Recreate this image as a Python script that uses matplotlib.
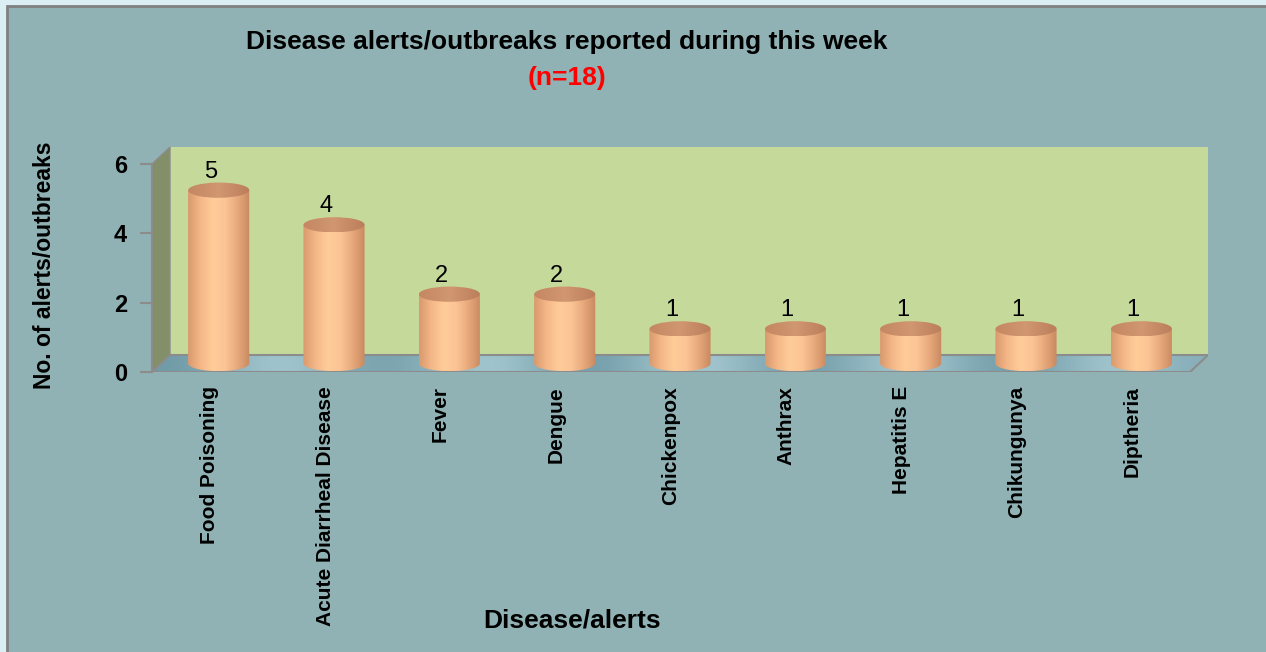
import numpy as np
import matplotlib.pyplot as plt
from matplotlib.patches import Rectangle, Polygon, Ellipse, PathPatch
from matplotlib.path import Path
from matplotlib.colors import LinearSegmentedColormap

# Data
diseases = ["Food Poisoning", "Acute Diarrheal Disease", "Fever", "Dengue",
            "Chickenpox", "Anthrax", "Hepatitis E", "Chikungunya", "Diptheria"]
counts = [5, 4, 2, 2, 1, 1, 1, 1, 1]
y_ticks = [0, 2, 4, 6]

plt.rcParams['font.family'] = ['Liberation Sans', 'DejaVu Sans']

W, H = 1266, 652
fig = plt.figure(figsize=(W / 100, H / 100), dpi=100)
fig.patch.set_facecolor('#dbeef4')

# outer chart frame
frame = Rectangle((7 / W, -0.1), 1.0, 1.1 - 6 / H, transform=fig.transFigure,
                  facecolor='#90b2b4', edgecolor='#808080', linewidth=2, zorder=-5)
fig.patches.append(frame)

n = len(diseases)
dx, dy = 0.156, 0.49          # depth of the 3D box in data units
ymax = 6

# axes: front plane from x=152px to 1208px, y=0 at 372px, top at 147px
ax = fig.add_axes([152 / W, 1 - 372 / H, (1208 - 152) / W, (372 - 147) / H])
ax.set_facecolor('none')
ax.set_zorder(2)

grey = '#8c8c8c'
# back wall
ax.add_patch(Rectangle((-0.5 + dx, dy), n, ymax, facecolor='#c5d99b',
                       edgecolor='none', zorder=1))
# left side wall
ax.add_patch(Polygon([(-0.5, 0), (-0.5, ymax), (-0.5 + dx, ymax + dy), (-0.5 + dx, dy)],
                     facecolor='#838f68', edgecolor=grey, linewidth=1, zorder=2))
# floor
floor_pts = [(-0.5, 0), (n - 0.5, 0), (n - 0.5 + dx, dy), (-0.5 + dx, dy)]
floor = Polygon(floor_pts, facecolor='#8fb7c2', edgecolor='none', zorder=2)
ax.add_patch(floor)
fgrad = np.array([[0.0, 0.5, 1.0, 0.4, 0.1, 0.6, 1.0, 0.3, 0.0, 0.7, 1.0, 0.4, 0.0,
                   0.6, 1.0, 0.3, 0.0, 0.6, 1.0, 0.4]])
fcmap = LinearSegmentedColormap.from_list('floor', ['#6f9aa6', '#a9ccd4'])
im = ax.imshow(fgrad, cmap=fcmap, extent=[-0.5, n - 0.5 + dx, 0, dy],
               aspect='auto', zorder=2, interpolation='bicubic')
im.set_clip_path(floor)
ax.add_patch(Polygon(floor_pts, facecolor='none', edgecolor=grey, linewidth=1.5, zorder=3))

# cylinders
bw = 0.53
eh = 0.44
body_cmap = LinearSegmentedColormap.from_list(
    'body', ['#d99a6e', '#f5b888', '#ffcc99', '#fcc495', '#e8aa7c', '#c98a62'])
top_cmap = LinearSegmentedColormap.from_list('top', ['#c48762', '#d19770', '#bb7e5c'])
grad = np.linspace(0, 1, 64).reshape(1, -1)
for i, v in enumerate(counts):
    c = i + dx / 2
    b = dy / 2
    left, right = c - bw / 2, c + bw / 2
    t = np.linspace(np.pi, 2 * np.pi, 40)
    bottom = np.column_stack([c + bw / 2 * np.cos(t), b + eh / 2 * np.sin(t)])
    verts = np.vstack([[left, b + v], bottom, [right, b + v], [left, b + v]])
    body = PathPatch(Path(verts), facecolor='none', edgecolor='none', zorder=4)
    ax.add_patch(body)
    bim = ax.imshow(grad, cmap=body_cmap, extent=[left, right, b - eh / 2, b + v],
                    aspect='auto', zorder=4, interpolation='bilinear')
    bim.set_clip_path(body)
    top = Ellipse((c, b + v), bw, eh, angle=3, facecolor='none', edgecolor='none', zorder=5)
    ax.add_patch(top)
    tim = ax.imshow(grad, cmap=top_cmap,
                    extent=[left, right, b + v - eh / 2, b + v + eh / 2],
                    aspect='auto', zorder=5, interpolation='bilinear')
    tim.set_clip_path(top)
    ax.text(c - 0.07, b + v + eh / 2 + 0.0, str(v), ha='center', va='bottom',
            fontsize=17, color='black', zorder=6)

ax.set_xlim(-0.5, n - 0.5 + dx)
ax.set_ylim(0, ymax + dy)

# axes styling
for s in ['top', 'right', 'bottom']:
    ax.spines[s].set_visible(False)
ax.spines['left'].set_bounds(0, ymax)
ax.spines['left'].set_color(grey)
ax.spines['left'].set_linewidth(1.5)
ax.set_yticks(y_ticks)
ax.set_yticklabels([str(t) for t in y_ticks], fontsize=17, fontweight='bold')
ax.tick_params(axis='y', length=9, width=1.5, color=grey, pad=9)
ax.set_xticks(np.arange(n))
ax.set_xticklabels(diseases, rotation=90, fontsize=15, fontweight='bold',
                   ha='center', va='top')
ax.tick_params(axis='x', length=0, pad=10)

fig.text(567 / W, 1 - 42 / H, "Disease alerts/outbreaks reported during this week",
         ha='center', va='center', fontsize=19, fontweight='bold')
fig.text(567 / W, 1 - 78 / H, "(n=18)", ha='center', va='center',
         fontsize=19, fontweight='bold', color='#ff0000')
fig.text(572 / W, 1 - 620 / H, "Disease/alerts", ha='center', va='center',
         fontsize=19, fontweight='bold')
fig.text(45 / W, 1 - 265 / H, "No. of alerts/outbreaks", ha='center', va='center',
         rotation=90, fontsize=16.5, fontweight='bold')

fig.savefig('out.png', dpi=100, facecolor=fig.get_facecolor())
